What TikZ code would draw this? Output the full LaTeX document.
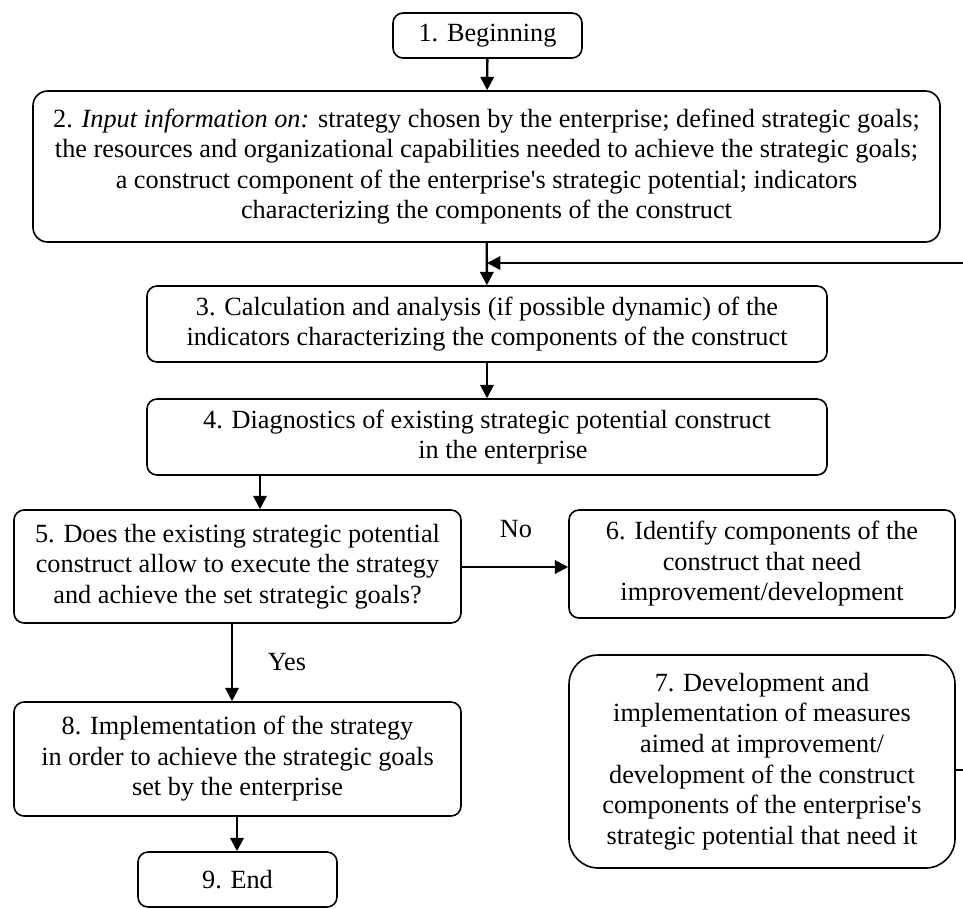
\documentclass[tikz,border=0pt]{standalone}
\usepackage{fontspec}
\setmainfont{Liberation Serif}[Ligatures=TeXOff]
\usetikzlibrary{arrows.meta}
\begin{document}
\begin{tikzpicture}[x=0.75pt,y=-0.75pt,
  box/.style={draw, line width=1.2pt, rounded corners=7.5pt, align=center, inner sep=0pt,
    font=\fontsize{19.7}{22.9}\selectfont},
  arr/.style={line width=1.8pt, -{Triangle[length=10pt,width=10pt]}},
  plain/.style={line width=1.6pt},
  lab/.style={font=\fontsize{19.7}{22.9}\selectfont, inner sep=0pt}]
\useasboundingbox (0,0) rectangle (963,908);

\node[box, minimum width=141.75pt, minimum height=33.75pt] (b1) at (487.5,35.5) {1. Beginning};
\node[box, rounded corners=11pt, minimum width=680.25pt, minimum height=113.25pt] (b2) at (486.5,166.5)
  {2. \textit{Input information on:} strategy chosen by the enterprise; defined strategic goals;\\
   the resources and organizational capabilities needed to achieve the strategic goals;\\
   a construct component of the enterprise's strategic potential; indicators\\
   characterizing the components of the construct};
\node[box, minimum width=510pt, minimum height=57pt] (b3) at (487,324)
  {3. Calculation and analysis (if possible dynamic) of the\\
   indicators characterizing the components of the construct};
\node[box, minimum width=510pt, minimum height=57pt] (b4) at (487,437)
  {4. Diagnostics of existing strategic potential construct\\
   \hspace*{24pt}in the enterprise};
\node[box, minimum width=335.25pt, minimum height=84.75pt] (b5) at (237.5,566.5)
  {5. Does the existing strategic potential\\
   construct allow to execute the strategy\\
   and achieve the set strategic goals?};
\node[box, minimum width=289.5pt, minimum height=81pt] (b6) at (762,564)
  {6. Identify components of the\\
   construct that need\\
   improvement/development};
\node[box, rounded corners=22pt, minimum width=289.5pt, minimum height=159.75pt] (b7) at (762,761.5)
  {7. Development and\\
   implementation of measures\\
   aimed at improvement/\\
   development of the construct\\
   components of the enterprise's\\
   strategic potential that need it};
\node[box, minimum width=335.25pt, minimum height=85.5pt] (b8) at (237.5,759)
  {8. Implementation of the strategy\\
   in order to achieve the strategic goals\\
   set by the enterprise};
\node[box, minimum width=149.25pt, minimum height=41.25pt] (b9) at (237.5,879.5) {9. End};

\node[lab] (no) at (516,529) {No};
\node[lab] (yes) at (287,662) {Yes};

\coordinate (fbR) at (963,263);
\coordinate (x45) at (260,0);
\coordinate (x58) at (232,0);
\coordinate (x89) at (237,0);
\coordinate (y56) at (0,567);
\coordinate (stubR) at (963,770);

\draw[arr] (b1) -- (b2);
\draw[arr] (b2) -- (b3);
\draw[arr] (fbR) -- (fbR -| b3.north);
\draw[arr] (b3) -- (b4);
\draw[arr] (b4.south -| x45) -- (b5.north -| x45);
\draw[arr] (b5.east |- y56) -- (b6.west |- y56);
\draw[arr] (b5.south -| x58) -- (b8.north -| x58);
\draw[arr] (b8.south -| x89) -- (b9.north -| x89);
\draw[plain] (b7.east |- stubR) -- (stubR);
\end{tikzpicture}
\end{document}
